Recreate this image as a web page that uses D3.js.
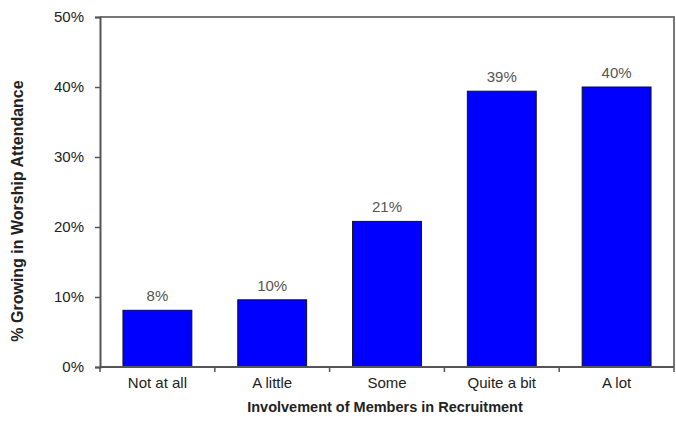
<!DOCTYPE html>
<html>
<head>
<meta charset="utf-8">
<script src="https://cdn.jsdelivr.net/npm/d3@7"></script>
<style>
  html, body { margin: 0; padding: 0; background: #fff; }
  svg text { font-family: "Liberation Sans", Arial, sans-serif; }
</style>
</head>
<body>
<svg id="chart" width="676" height="429"></svg>
<script>
// Share of congregations growing in worship attendance, by member involvement in recruitment
const categories = ["Not at all", "A little", "Some", "Quite a bit", "A lot"];
const values = [8.1, 9.6, 20.8, 39.4, 40.0];
const valueLabels = ["8%", "10%", "21%", "39%", "40%"];
const yTicks = [0, 10, 20, 30, 40, 50];

const svg = d3.select("#chart");
const margin = { left: 100, right: 2, top: 17, bottom: 62 };
const W = 676, H = 429;

const x = d3.scaleBand()
  .domain(categories)
  .range([margin.left, W - margin.right])
  .paddingInner(0.4)
  .paddingOuter(0.2);

const y = d3.scaleLinear()
  .domain([0, 50])
  .range([H - margin.bottom, margin.top]);

const axisColor = "#555";

// plot frame (top and right edges)
svg.append("path")
  .attr("d", `M${margin.left},${y(50)}H${W - margin.right}V${y(0)}`)
  .attr("fill", "none")
  .attr("stroke", "#777")
  .attr("stroke-width", 2);

// bars
svg.selectAll("rect.bar")
  .data(values)
  .join("rect")
  .attr("class", "bar")
  .attr("x", (d, i) => x(categories[i]))
  .attr("y", d => y(d))
  .attr("width", x.bandwidth())
  .attr("height", d => y(0) - y(d))
  .attr("fill", "#0000ff")
  .attr("stroke", "#111")
  .attr("stroke-width", 1);

// value labels
svg.selectAll("text.val")
  .data(values)
  .join("text")
  .attr("class", "val")
  .attr("x", (d, i) => x(categories[i]) + x.bandwidth() / 2)
  .attr("y", d => y(d) - 9)
  .attr("text-anchor", "middle")
  .attr("font-size", 15)
  .attr("fill", "#555")
  .text((d, i) => valueLabels[i]);

// y axis
const yAxis = svg.append("g")
  .attr("transform", `translate(${margin.left},0)`)
  .call(d3.axisLeft(y).tickValues(yTicks).tickSize(5).tickPadding(11).tickFormat(d => d + "%"));
yAxis.select(".domain").attr("stroke", axisColor).attr("stroke-width", 2);
yAxis.selectAll(".tick line").attr("stroke", axisColor).attr("stroke-width", 1.5);
yAxis.selectAll(".tick text").attr("font-size", 15).attr("fill", "#222");

// x axis with ticks on category boundaries
const xAxis = svg.append("g")
  .attr("transform", `translate(0,${y(0)})`);
xAxis.append("line")
  .attr("x1", margin.left).attr("x2", W - margin.right)
  .attr("stroke", axisColor).attr("stroke-width", 2);
const step = x.step();
const boundaries = d3.range(categories.length + 1).map(i => x(categories[0]) - x.paddingOuter() * step + i * step);
xAxis.selectAll("line.tk")
  .data(boundaries)
  .join("line")
  .attr("class", "tk")
  .attr("x1", d => d).attr("x2", d => d)
  .attr("y1", 0).attr("y2", 5)
  .attr("stroke", axisColor).attr("stroke-width", 1.5);
xAxis.selectAll("text.cat")
  .data(categories)
  .join("text")
  .attr("class", "cat")
  .attr("x", d => x(d) + x.bandwidth() / 2)
  .attr("y", 21)
  .attr("text-anchor", "middle")
  .attr("font-size", 15)
  .attr("fill", "#222")
  .text(d => d);

// axis titles
svg.append("text")
  .attr("x", 385)
  .attr("y", 412)
  .attr("text-anchor", "middle")
  .attr("font-size", 14.5)
  .attr("font-weight", "bold")
  .attr("fill", "#222")
  .text("Involvement of Members in Recruitment");

svg.append("text")
  .attr("transform", "translate(23,211) rotate(-90)")
  .attr("text-anchor", "middle")
  .attr("font-size", 16)
  .attr("font-weight", "bold")
  .attr("fill", "#222")
  .text("% Growing in Worship Attendance");
</script>
</body>
</html>
